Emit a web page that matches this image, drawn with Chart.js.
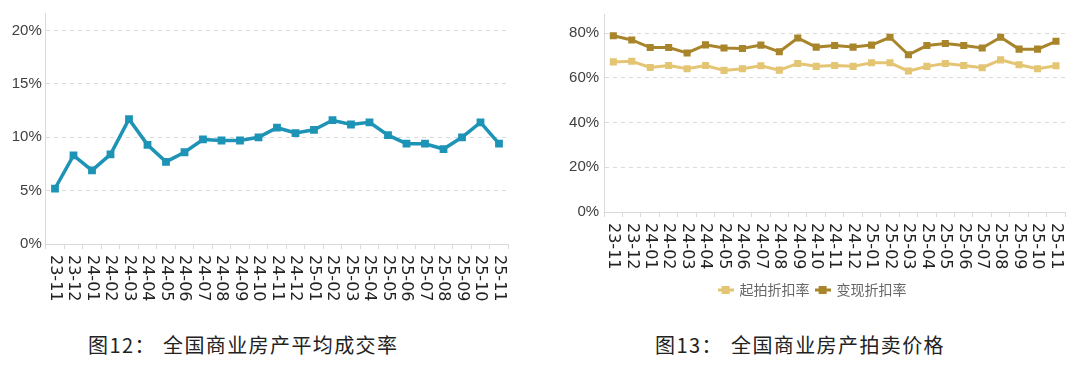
<!DOCTYPE html>
<html>
<head>
<meta charset="utf-8">
<script src="https://cdn.jsdelivr.net/npm/chart.js"></script>
<style>
  html, body { margin: 0; padding: 0; background: #fff; }
  body { width: 1080px; height: 368px; position: relative; overflow: hidden; }
  .box { position: absolute; top: 0; }
  .cap { position: absolute; top: 333px; font-family: "Noto Sans CJK SC", sans-serif; font-size: 20px; line-height: 24px; color: #222; letter-spacing: 1.4px; white-space: nowrap; }
</style>
</head>
<body>
<div class="box" style="left:0;width:530px;height:310px"><canvas id="g12"></canvas></div>
<div class="box" style="left:560px;width:520px;height:310px"><canvas id="g13"></canvas></div>
<div class="cap" style="left:88px">图12：</div>
<div class="cap" style="left:163px">全国商业房产平均成交率</div>
<div class="cap" style="left:655px">图13：</div>
<div class="cap" style="left:731px">全国商业房产拍卖价格</div>

<script>
// ---------- datos ----------
const meses = [
  "23-11", "23-12", "24-01", "24-02", "24-03", "24-04", "24-05", "24-06",
  "24-07", "24-08", "24-09", "24-10", "24-11", "24-12", "25-01", "25-02",
  "25-03", "25-04", "25-05", "25-06", "25-07", "25-08", "25-09", "25-10", "25-11"
];

// 图12 平均成交率 (%)
const chengjiaoLv = [
  5.2, 8.3, 6.9, 8.4, 11.7, 9.3, 7.7, 8.6, 9.8, 9.7, 9.7, 10.0,
  10.9, 10.4, 10.7, 11.6, 11.2, 11.4, 10.2, 9.4, 9.4, 8.9, 10.0, 11.4, 9.4
];

// 图13 起拍折扣率 / 变现折扣率 (%)
const qipaiZhekou = [
  67.1, 67.4, 64.6, 65.5, 64.0, 65.5, 63.3, 64.0, 65.4, 63.4, 66.4, 65.1,
  65.5, 65.1, 66.7, 66.7, 63.0, 65.1, 66.4, 65.5, 64.5, 68.0, 65.8, 64.0, 65.4
];
const bianxianZhekou = [
  78.8, 76.9, 73.5, 73.5, 71.1, 74.7, 73.3, 73.1, 74.6, 71.6, 77.8, 73.7,
  74.4, 73.7, 74.6, 78.1, 70.3, 74.4, 75.3, 74.4, 73.3, 78.1, 72.8, 72.8, 76.3
];

const nombresSeries = ["起拍折扣率", "变现折扣率"];

// ---------- estilos ----------
const TEAL = "#1d93b6";
const ORO_CLARO = "#e4c574";
const ORO_OSCURO = "#a8852b";
const GRIS_EJE = "#d9d9d9";

// Etiquetas del eje X giradas 90° en sentido horario (texto de arriba abajo)
const etiquetasGiradas = {
  id: "etiquetasGiradas",
  afterDraw(chart) {
    const sx = chart.scales.x;
    const c = chart.ctx;
    c.save();
    c.font = "16px 'DejaVu Sans'";
    c.fillStyle = "#222";
    c.textAlign = "left";
    c.textBaseline = "middle";
    sx.ticks.forEach((t, i) => {
      const x = sx.getPixelForTick(i);
      c.save();
      c.translate(x, sx.top + 11);
      c.rotate(Math.PI / 2);
      c.fillText(sx.getLabelForValue(t.value), 0, 0);
      c.restore();
    });
    c.restore();
  }
};

// Icono de leyenda: linea corta con un cuadrado en medio
function iconoLeyenda(color) {
  const cv = document.createElement("canvas");
  cv.width = 16; cv.height = 10;
  const g = cv.getContext("2d");
  g.strokeStyle = color;
  g.lineWidth = 3;
  g.beginPath(); g.moveTo(0, 5); g.lineTo(16, 5); g.stroke();
  g.fillStyle = color;
  g.fillRect(4, 1, 8, 8);
  return cv;
}

function ejeX(alto) {
  return {
    type: "category",
    offset: true,
    border: { color: GRIS_EJE, width: 1 },
    grid: { offset: true, drawOnChartArea: false, drawTicks: true, tickLength: 5, color: GRIS_EJE },
    ticks: { display: false },
    afterFit(s) { s.height = alto; }
  };
}

function ejeY(max, paso, ancho, pad) {
  return {
    min: 0,
    max: max,
    // en v4 border.dash se aplica a las lineas de la rejilla
    border: { color: GRIS_EJE, width: 1, display: true, dash: [4, 4] },
    grid: { color: GRIS_EJE, drawTicks: false, lineWidth: 1 },
    ticks: {
      stepSize: paso,
      padding: pad,
      color: "#404040",
      font: { family: "'Liberation Sans'", size: 15 },
      callback: v => v + "%"
    },
    afterBuildTicks(s) { s.ticks = s.ticks.filter(t => t.value % paso === 0); },
    afterFit(s) { s.width = ancho; }
  };
}

// ---------- 图12 ----------
new Chart(document.getElementById("g12"), {
  type: "line",
  data: {
    labels: meses,
    datasets: [{
      data: chengjiaoLv,
      borderColor: TEAL,
      backgroundColor: TEAL,
      borderWidth: 3.5,
      pointStyle: "rect",
      pointRadius: 5.5,
      pointBorderWidth: 0,
      tension: 0
    }]
  },
  options: {
    responsive: true,
    maintainAspectRatio: false,
    animation: false,
    layout: { autoPadding: false, padding: { top: 9, right: 21.75, left: 0, bottom: 0 } },
    plugins: { legend: { display: false }, tooltip: { enabled: false } },
    scales: { x: ejeX(66), y: ejeY(21.65, 5, 45.75, 4) }
  },
  plugins: [etiquetasGiradas]
});

// ---------- 图13 ----------
const iconos = [iconoLeyenda(ORO_CLARO), iconoLeyenda(ORO_OSCURO)];
new Chart(document.getElementById("g13"), {
  type: "line",
  data: {
    labels: meses,
    datasets: [
      {
        label: nombresSeries[0],
        data: qipaiZhekou,
        borderColor: ORO_CLARO,
        backgroundColor: ORO_CLARO,
        borderWidth: 3,
        pointStyle: "rect",
        pointRadius: 5,
        pointBorderWidth: 0,
        tension: 0
      },
      {
        label: nombresSeries[1],
        data: bianxianZhekou,
        borderColor: ORO_OSCURO,
        backgroundColor: ORO_OSCURO,
        borderWidth: 3,
        pointStyle: "rect",
        pointRadius: 5,
        pointBorderWidth: 0,
        tension: 0
      }
    ]
  },
  options: {
    responsive: true,
    maintainAspectRatio: false,
    animation: false,
    layout: { autoPadding: false, padding: { top: 9.5, right: 14.8, left: 0, bottom: 3 } },
    plugins: {
      tooltip: { enabled: false },
      legend: {
        position: "bottom",
        labels: {
          usePointStyle: true,
          boxWidth: 16,
          boxHeight: 10,
          padding: 6,
          color: "#666",
          font: { family: "'Noto Sans CJK SC'", size: 14 },
          generateLabels(chart) {
            return chart.data.datasets.map((d, i) => ({
              text: d.label,
              pointStyle: iconos[i],
              fillStyle: d.borderColor,
              strokeStyle: d.borderColor,
              lineWidth: 0,
              fontColor: "#666",
              hidden: false,
              datasetIndex: i
            }));
          }
        }
      }
    },
    scales: { x: ejeX(65), y: ejeY(88.5, 20, 44.1, 5) }
  },
  plugins: [etiquetasGiradas]
});
</script>
</body>
</html>
